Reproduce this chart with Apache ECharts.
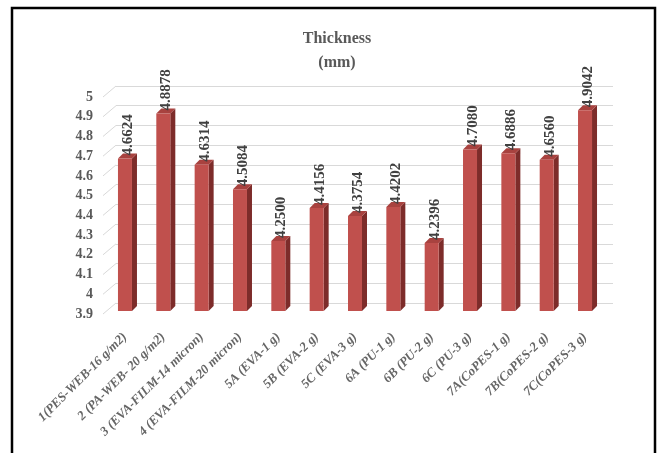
<!DOCTYPE html>
<html>
<head>
<meta charset="utf-8">
<script src="https://cdn.jsdelivr.net/npm/echarts@6/dist/echarts.min.js"></script>
<style>
  html, body { margin: 0; padding: 0; background: #ffffff; }
  #chart { width: 657px; height: 453px; }
</style>
</head>
<body>
<div id="chart"></div>
<script>
// Sample names along the category axis
const categories = [
  '1(PES-WEB-16 g/m2)', '2 (PA-WEB- 20 g/m2)', '3 (EVA-FILM-14 micron)',
  '4 (EVA-FILM-20 micron)', '5A (EVA-1 g)', '5B (EVA-2 g)', '5C (EVA-3 g)',
  '6A (PU-1 g)', '6B (PU-2 g)', '6C (PU-3 g)', '7A(CoPES-1 g)',
  '7B(CoPES-2 g)', '7C(CoPES-3 g)'
];
// Measured thickness, mm
const thickness = [
  4.6624, 4.8878, 4.6314, 4.5084, 4.2500, 4.4156, 4.3754,
  4.4202, 4.2396, 4.7080, 4.6886, 4.6560, 4.9042
];
// Value axis ticks
const yTicks = [3.9, 4.0, 4.1, 4.2, 4.3, 4.4, 4.5, 4.6, 4.7, 4.8, 4.9, 5.0];
const yMin = 3.9, yMax = 5.0, yStep = 0.1;

const SERIF = '"Liberation Serif", "Times New Roman", serif';
const FRONT = '#c0504d', SIDE = '#7d2c2a', TOP = '#a8423f';
const BAR_W = 14, DX = 5, DY = 5;

const chart = echarts.init(document.getElementById('chart'));

function renderBar(params, api) {
  const i = api.value(0), v = api.value(1);
  const top = api.coord([i, v]);
  const base = api.coord([i, yMin]);
  const x0 = top[0] - BAR_W / 2, x1 = x0 + BAR_W;
  const yt = top[1], yb = base[1];
  return {
    type: 'group',
    children: [
      { type: 'polygon', shape: { points: [[x1, yt], [x1 + DX, yt - DY], [x1 + DX, yb - DY], [x1, yb]] },
        style: { fill: SIDE } },
      { type: 'polygon', shape: { points: [[x0, yt], [x0 + DX, yt - DY], [x1 + DX, yt - DY], [x1, yt]] },
        style: { fill: TOP } },
      { type: 'rect', shape: { x: x0, y: yt, width: BAR_W, height: yb - yt },
        style: { fill: FRONT } },
      { type: 'text', x: top[0] + 3, y: yt - 3, rotation: Math.PI / 2,
        style: { text: v.toFixed(4), fill: '#404040', font: 'bold 15px ' + SERIF,
                 align: 'left', verticalAlign: 'middle' } }
    ]
  };
}

// Short slanted strokes joining the tick labels to the back-wall grid lines
function renderTickStroke(params, api) {
  const p = api.coord([0, api.value(0)]);
  return {
    type: 'line',
    shape: { x1: p[0] - 13, y1: p[1] + 11, x2: p[0], y2: p[1] },
    style: { stroke: '#d9d9d9', lineWidth: 1 }
  };
}

chart.setOption({
  backgroundColor: '#ffffff',
  animation: false,
  title: {
    text: 'Thickness\n(mm)',
    left: 332, top: 22, textAlign: 'center',
    textStyle: { fontFamily: SERIF, fontWeight: 'bold', fontSize: 16, color: '#595959', lineHeight: 24 }
  },
  graphic: [{
    type: 'rect', silent: true, z: 100,
    shape: { x: 12, y: 8, width: 643, height: 470 },
    style: { fill: 'none', stroke: '#000000', lineWidth: 2.5 }
  }],
  grid: [
    { left: 105.8, right: 52.8, top: 91, bottom: 142 },   // bars
    { left: 116, right: 44, top: 86, bottom: 150 },        // back wall
    { left: 101, right: 44, top: 97, bottom: 139 }         // tick labels
  ],
  xAxis: [
    {
      gridIndex: 0, type: 'category', data: categories,
      axisLine: { show: false }, axisTick: { show: false },
      axisLabel: {
        interval: 0, rotate: 45, margin: 24,
        fontFamily: SERIF, fontStyle: 'italic', fontWeight: 'bold', fontSize: 13, color: '#666666'
      }
    },
    { gridIndex: 1, type: 'value', min: 0, max: 1, show: false },
    { gridIndex: 2, type: 'value', min: 0, max: 1, show: false }
  ],
  yAxis: [
    { gridIndex: 0, type: 'value', min: yMin, max: yMax, interval: yStep, show: false },
    {
      gridIndex: 1, type: 'value', min: yMin, max: yMax, interval: yStep,
      axisLine: { show: false }, axisTick: { show: false }, axisLabel: { show: false },
      splitLine: { show: true, lineStyle: { color: '#d9d9d9', width: 1 } }
    },
    {
      gridIndex: 2, type: 'value', min: yMin, max: yMax, interval: yStep,
      axisLine: { show: false }, axisTick: { show: false }, splitLine: { show: false },
      axisLabel: {
        margin: 8, fontFamily: SERIF, fontWeight: 'bold', fontSize: 14, color: '#595959',
        formatter: v => String(Math.round(v * 10) / 10)
      }
    }
  ],
  series: [
    {
      type: 'custom', xAxisIndex: 1, yAxisIndex: 1,
      data: yTicks.map(t => [t]),
      encode: { y: 0 },
      renderItem: renderTickStroke, silent: true
    },
    {
      type: 'custom', xAxisIndex: 0, yAxisIndex: 0,
      data: thickness.map((v, i) => [i, v]),
      encode: { x: 0, y: 1 },
      renderItem: renderBar, silent: true
    }
  ]
});
</script>
</body>
</html>
